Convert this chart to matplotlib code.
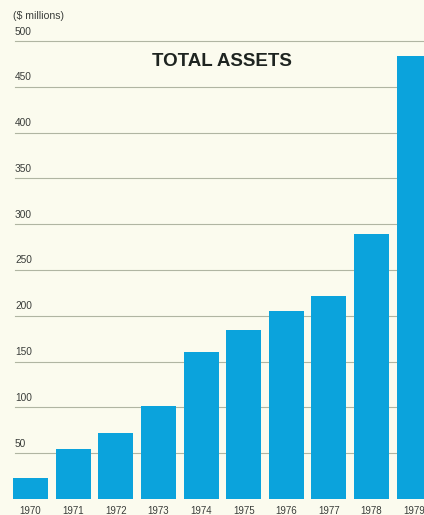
import matplotlib
matplotlib.use('Agg')
import matplotlib.pyplot as plt

# Total assets per year, $ millions
years = ['1970', '1971', '1972', '1973', '1974', '1975', '1976', '1977', '1978', '1979']
assets = [23, 55, 72, 102, 160, 185, 205, 222, 289, 484]
y_ticks = [50, 100, 150, 200, 250, 300, 350, 400, 450, 500]

bg = '#fbfbee'
bar_color = '#0ba3dc'
grid_color = '#b0b5a2'
text_color = '#3a3d3a'

plt.rcParams['font.family'] = ['Liberation Sans', 'DejaVu Sans']

fig = plt.figure(figsize=(4.24, 5.15), dpi=100, facecolor=bg)
W, H = 424, 515
# axes from x=13px to the right edge, y from baseline (499px) to top
ax = fig.add_axes([13 / W, (H - 499) / H, 1 - 13 / W, 499 / H])
ax.set_facecolor(bg)

x = list(range(len(years)))
ax.bar(x, assets, width=0.82, color=bar_color, zorder=2)

ax.set_xlim(-0.41, 9.23)
ax.set_ylim(0, 544.9)

for v in y_ticks:
    ax.axhline(v, xmin=2 / 411, color=grid_color, lw=0.8, zorder=1)
    ax.text(2 / 411, v + 5, str(v), transform=ax.get_yaxis_transform(),
            ha='left', va='bottom', fontsize=7.3, color=text_color)

for xi, yr in zip(x, years):
    ax.text(xi, -8, yr, ha='center', va='top', fontsize=7.0,
            color=text_color, clip_on=False)

for s in ax.spines.values():
    s.set_visible(False)
ax.set_xticks([])
ax.set_yticks([])

fig.text(13 / W, 1 - 16 / H, '($ millions)', ha='left', va='center',
         fontsize=7.6, color=text_color)
fig.text(222 / W, 1 - 62 / H, 'TOTAL ASSETS', ha='center', va='center',
         fontsize=13.5, fontweight='bold', color='#1e2420')

fig.savefig('out.png', dpi=100, facecolor=bg)
